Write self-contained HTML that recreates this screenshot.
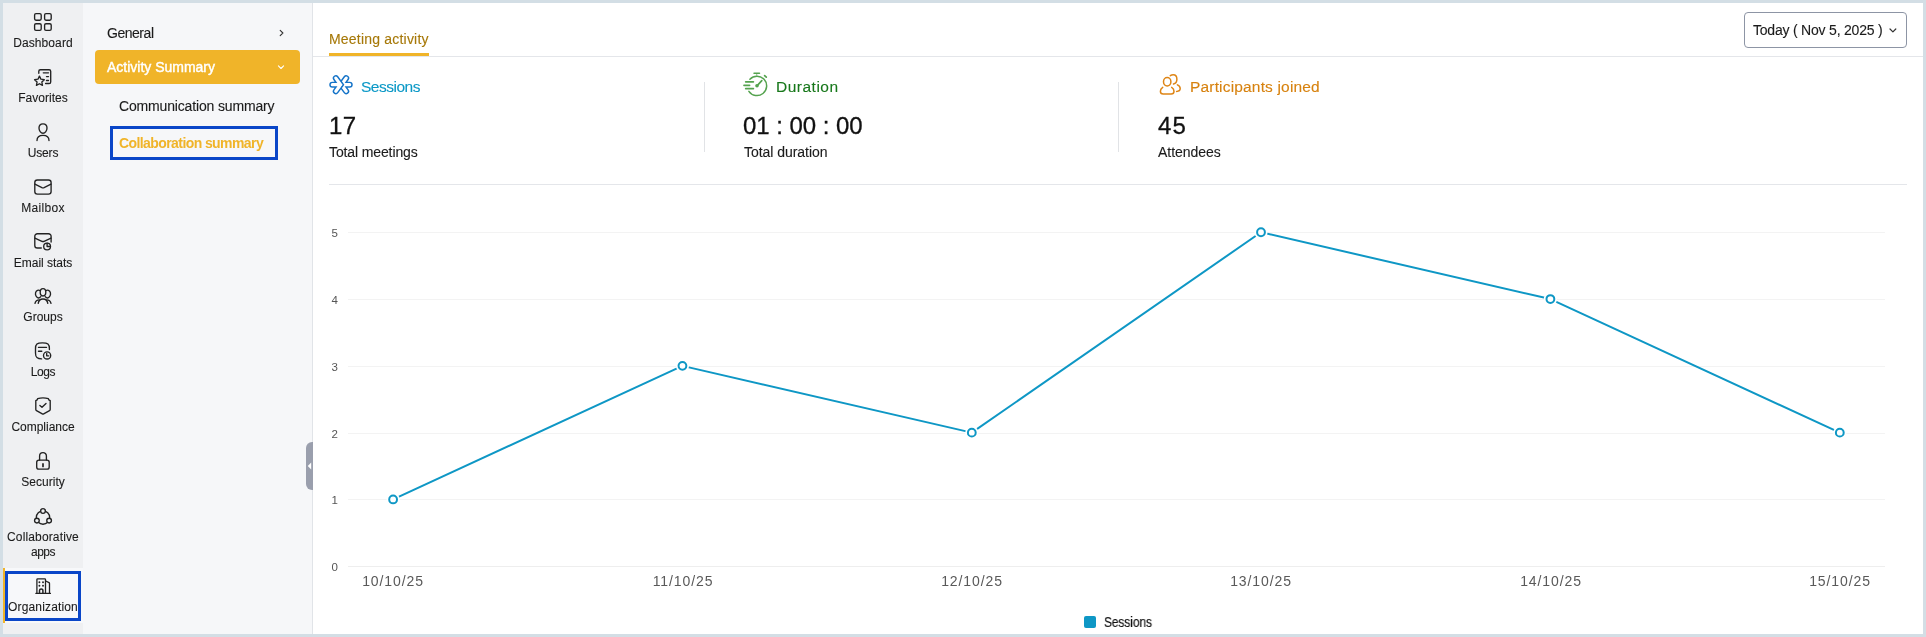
<!DOCTYPE html>
<html>
<head>
<meta charset="utf-8">
<title>Collaboration summary</title>
<style>
*{box-sizing:border-box;margin:0;padding:0}
html,body{width:1926px;height:637px;overflow:hidden;background:#d3dee5}
body{font-family:"Liberation Sans",sans-serif;color:#1b1b1b;position:relative}
.abs{position:absolute}
#side{left:3px;top:3px;width:80px;height:631px;background:#eff0f2}
#nav{left:83px;top:3px;width:229px;height:631px;background:#f6f7f9}
#navb{left:312px;top:3px;width:1px;height:631px;background:#e1e4e8}
#main{left:313px;top:3px;width:1610px;height:631px;background:#fff}
.t{position:absolute;white-space:nowrap;line-height:1;will-change:transform}
.sl{-webkit-text-stroke:.1px #1b1b1b;will-change:transform;position:absolute;left:3px;width:80px;text-align:center;font-size:12.5px;line-height:15px;color:#1b1b1b;white-space:nowrap}
.ic{position:absolute;overflow:visible}
.ic *{vector-effect:none}
</style>
</head>
<body>
<div id="side" class="abs"></div>
<div id="nav" class="abs"></div>
<div id="navb" class="abs"></div>
<div id="main" class="abs"></div>

<!-- SIDEBAR LABELS -->
<div class="sl" id="sl1" style="top:36px;font-size:12px;letter-spacing:0.08px">Dashboard</div>
<div class="sl" id="sl2" style="top:91px;font-size:12px;letter-spacing:0.01px">Favorites</div>
<div class="sl" id="sl3" style="top:146px;font-size:12px;letter-spacing:-0.15px">Users</div>
<div class="sl" id="sl4" style="top:201px;font-size:12px;letter-spacing:0.33px">Mailbox</div>
<div class="sl" id="sl5" style="top:256px;font-size:12px;letter-spacing:-0.03px">Email stats</div>
<div class="sl" id="sl6" style="top:310px;font-size:12px;letter-spacing:0px">Groups</div>
<div class="sl" id="sl7" style="top:365px;font-size:12px;letter-spacing:-0.4px">Logs</div>
<div class="sl" id="sl8" style="top:420px;font-size:12px;letter-spacing:-0.02px">Compliance</div>
<div class="sl" id="sl9" style="top:475px;font-size:12px;letter-spacing:0.03px">Security</div>
<div class="sl" id="sl10" style="top:530px;font-size:12px;letter-spacing:0.14px">Collaborative</div>
<div class="sl" id="sl11" style="top:545px;font-size:12px;letter-spacing:-0.53px">apps</div>
<!-- organization selected -->
<div class="abs" style="left:3px;top:568px;width:80px;height:55px;background:#f7f8fa"></div>
<div class="abs" style="left:3px;top:568px;width:2px;height:55px;background:#f0b429"></div>
<div class="abs" style="left:5px;top:571px;width:76px;height:50px;border:3px solid #0a46c8"></div>
<div class="sl" id="sl12" style="top:600px;font-size:12px;letter-spacing:0.15px">Organization</div>




<!-- NAV -->
<div class="t" id="n1" style="left:107px;top:26px;font-size:14px;letter-spacing:-0.47px;-webkit-text-stroke:.12px #1b1b1b">General</div>
<div class="abs" style="left:95px;top:50px;width:205px;height:34px;background:#f0b429;border-radius:4px"></div>
<div class="t" id="n2" style="-webkit-text-stroke:.4px #fff;left:107px;top:60px;font-size:14px;color:#fff;letter-spacing:-0.01px">Activity Summary</div>
<div class="t" id="n3" style="left:119px;top:99px;font-size:14px;letter-spacing:-0.16px;-webkit-text-stroke:.12px #1b1b1b">Communication summary</div>
<div class="abs" style="left:110px;top:126px;width:168px;height:34px;border:3px solid #0a46c8;background:#f6f7f9"></div>
<div class="t" id="n4" style="left:119px;top:136px;font-size:14px;font-weight:bold;color:#f0b429;letter-spacing:-0.585px">Collaboration summary</div>

<!-- collapse handle -->
<div class="abs" style="left:306px;top:442px;width:7px;height:48px;background:#9a9fad;border-radius:6px 0 0 6px"></div>
<svg class="ic" style="left:306px;top:460px" width="7" height="12" viewBox="0 0 7 12"><path d="M5.2 2.6 L1.8 6 L5.2 9.4 Z" fill="#fff"/></svg>

<!-- HEADER -->
<div class="t" id="h1" style="left:329px;top:32px;font-size:14px;color:#a67808;letter-spacing:0.2px;-webkit-text-stroke:.12px #a67808">Meeting activity</div>
<div class="abs" style="left:329px;top:53px;width:100px;height:3px;background:#f0b429"></div>
<div class="abs" style="left:313px;top:56px;width:1610px;height:1px;background:#e4e6ea"></div>
<div class="abs" style="left:1744px;top:12px;width:163px;height:36px;border:1px solid #8d95a5;border-radius:4px;background:#fff"></div>
<div class="t" id="h2" style="left:1753px;top:23px;font-size:14px;letter-spacing:-0.21px;-webkit-text-stroke:.12px #1b1b1b">Today ( Nov 5, 2025 )</div>

<!-- STATS -->
<div class="t" id="s1" style="left:361px;top:79px;font-size:15.5px;color:#0b98c6;letter-spacing:-0.5px;-webkit-text-stroke:.12px #0b98c6">Sessions</div>
<div class="t" id="s2" style="left:329px;top:114px;font-size:24px;color:#111;letter-spacing:0.5px;-webkit-text-stroke:.3px #111">17</div>
<div class="t" id="s3" style="left:329px;top:145px;font-size:14px;letter-spacing:-0.12px;-webkit-text-stroke:.12px #1b1b1b">Total meetings</div>
<div class="abs" style="left:704px;top:82px;width:1px;height:70px;background:#e1e3e6"></div>
<div class="t" id="s4" style="left:776px;top:79px;font-size:15.5px;color:#17771a;letter-spacing:0.5px;-webkit-text-stroke:.12px #17771a">Duration</div>
<div class="t" id="s5" style="left:743px;top:114px;font-size:24px;color:#111;letter-spacing:-0.04px;-webkit-text-stroke:.3px #111">01 : 00 : 00</div>
<div class="t" id="s6" style="left:744px;top:145px;font-size:14px;letter-spacing:-0.04px;-webkit-text-stroke:.12px #1b1b1b">Total duration</div>
<div class="abs" style="left:1118px;top:82px;width:1px;height:70px;background:#e1e3e6"></div>
<div class="t" id="s7" style="left:1190px;top:79px;font-size:15.5px;color:#d7820f;letter-spacing:0.17px;-webkit-text-stroke:.12px #d7820f">Participants joined</div>
<div class="t" id="s8" style="left:1158px;top:114px;font-size:24px;color:#111;letter-spacing:1.1px;-webkit-text-stroke:.3px #111">45</div>
<div class="t" id="s9" style="left:1158px;top:145px;font-size:14px;letter-spacing:-0.04px;-webkit-text-stroke:.12px #1b1b1b">Attendees</div>
<div class="abs" style="left:329px;top:184px;width:1578px;height:1px;background:#e4e6ea"></div>

<!-- CHART -->
<svg class="abs" style="left:0;top:0" width="1926" height="637" viewBox="0 0 1926 637">
 <g stroke="#f3f3f3" stroke-width="1" shape-rendering="crispEdges">
  <line x1="348" x2="1885" y1="232.5" y2="232.5"/>
  <line x1="348" x2="1885" y1="299.5" y2="299.5"/>
  <line x1="348" x2="1885" y1="366.5" y2="366.5"/>
  <line x1="348" x2="1885" y1="433.5" y2="433.5"/>
  <line x1="348" x2="1885" y1="499.5" y2="499.5"/>
  <line x1="348" x2="1885" y1="566.5" y2="566.5" stroke="#eeeeee"/>
 </g>
 <polyline fill="none" stroke="#0e97c5" stroke-width="2" stroke-linejoin="round" points="393.1,499.45 682.45,365.85 971.8,432.65 1261,232.25 1550.4,299.05 1839.8,432.65"/>
 <g fill="#fff" stroke="#fff" stroke-width="3.2"><circle cx="393.1" cy="499.45" r="5"/><circle cx="682.45" cy="365.85" r="5"/><circle cx="971.8" cy="432.65" r="5"/><circle cx="1261" cy="232.25" r="5"/><circle cx="1550.4" cy="299.05" r="5"/><circle cx="1839.8" cy="432.65" r="5"/></g>
 <g fill="#fff" stroke="#0e97c5" stroke-width="2"><circle cx="393.1" cy="499.45" r="3.9"/><circle cx="682.45" cy="365.85" r="3.9"/><circle cx="971.8" cy="432.65" r="3.9"/><circle cx="1261" cy="232.25" r="3.9"/><circle cx="1550.4" cy="299.05" r="3.9"/><circle cx="1839.8" cy="432.65" r="3.9"/></g>
 <rect x="1084" y="616" width="12" height="12" rx="2" fill="#0e97c5"/>
</svg>
<div class="t yl" id="yl1" style="left:324px;width:14px;text-align:right;top:228px;font-size:11.5px;color:#555">5</div>
<div class="t yl" id="yl2" style="left:324px;width:14px;text-align:right;top:295px;font-size:11.5px;color:#555">4</div>
<div class="t yl" id="yl3" style="left:324px;width:14px;text-align:right;top:362px;font-size:11.5px;color:#555">3</div>
<div class="t yl" id="yl4" style="left:324px;width:14px;text-align:right;top:429px;font-size:11.5px;color:#555">2</div>
<div class="t yl" id="yl5" style="left:324px;width:14px;text-align:right;top:495px;font-size:11.5px;color:#555">1</div>
<div class="t yl" id="yl6" style="left:324px;width:14px;text-align:right;top:562px;font-size:11.5px;color:#555">0</div>

<div class="t xl" id="xl1" style="left:343.2px;width:100px;text-align:center;top:574px;font-size:14px;color:#595959;letter-spacing:.9px">10/10/25</div>
<div class="t xl" id="xl2" style="left:632.6px;width:100px;text-align:center;top:574px;font-size:14px;color:#595959;letter-spacing:.9px">11/10/25</div>
<div class="t xl" id="xl3" style="left:921.9px;width:100px;text-align:center;top:574px;font-size:14px;color:#595959;letter-spacing:.9px">12/10/25</div>
<div class="t xl" id="xl4" style="left:1211.1px;width:100px;text-align:center;top:574px;font-size:14px;color:#595959;letter-spacing:.9px">13/10/25</div>
<div class="t xl" id="xl5" style="left:1500.5px;width:100px;text-align:center;top:574px;font-size:14px;color:#595959;letter-spacing:.9px">14/10/25</div>
<div class="t xl" id="xl6" style="left:1789.9px;width:100px;text-align:center;top:574px;font-size:14px;color:#595959;letter-spacing:.9px">15/10/25</div>
<div class="t" id="lg" style="left:1103.5px;top:615px;font-size:14px;color:#111;-webkit-text-stroke:.2px #111;transform:scaleX(.845);transform-origin:0 0">Sessions</div>
<!-- ICONS -->
<svg class="abs" id="icons" style="left:0;top:0" width="1926" height="637" viewBox="0 0 1926 637" fill="none" stroke-linecap="round" stroke-linejoin="round">
 <g stroke="#222" stroke-width="1.35">
  <!-- dashboard -->
  <rect x="34.6" y="13.6" width="6.6" height="6.6" rx="1.4"/><rect x="44.6" y="13.6" width="6.6" height="6.6" rx="1.4"/>
  <rect x="34.6" y="23.7" width="6.6" height="6.6" rx="1.4"/><rect x="44.6" y="23.7" width="6.6" height="6.6" rx="1.4"/>
  <!-- favorites -->
  <path d="M38.8 73.2 V71.3 A1.6 1.6 0 0 1 40.4 69.7 H49.1 A1.6 1.6 0 0 1 50.7 71.3 V81.9 A1.6 1.6 0 0 1 49.1 83.5 H45.6"/>
  <path d="M43.3 72.8 H48.5 M46.5 76.6 H48.5 M46.5 80.5 H48.5"/>
  <path d="M39.45 76.1 L40.95 79.2 L44.3 79.65 L41.85 82 L42.45 85.35 L39.45 83.75 L36.45 85.35 L37.05 82 L34.6 79.65 L37.95 79.2 Z"/>
  <!-- users -->
  <path d="M43 123.8 C45.6 123.8 47 125.8 47 128 C47 130.6 45.2 133.2 43 133.2 C40.8 133.2 39 130.6 39 128 C39 125.8 40.4 123.8 43 123.8 Z"/>
  <path d="M37 140.6 C37 137.2 39.6 135.3 43 135.3 C46.4 135.3 49 137.2 49 140.6"/>
  <!-- mailbox -->
  <rect x="34.8" y="180" width="16.3" height="14.1" rx="2.6"/>
  <path d="M34.9 184.2 L41.9 187.6 Q43 188.1 44.1 187.6 L51 184.2"/>
  <!-- email stats -->
  <path d="M41.3 248 H37.4 A2.6 2.6 0 0 1 34.8 245.4 V236.3 A2.6 2.6 0 0 1 37.4 233.7 H48.5 A2.6 2.6 0 0 1 51.1 236.3 V242"/>
  <path d="M34.9 238.2 L41.9 241.3 Q43 241.8 44.1 241.3 L51 238.2"/>
  <circle cx="47.1" cy="246.5" r="3.4"/><path d="M47.1 243.2 V246.5 H50.4"/>
  <!-- groups -->
  <ellipse cx="43" cy="292.3" rx="2.8" ry="3.7"/>
  <path d="M40.1 290.6 C38.6 289.6 36.2 290.3 35.6 292.6 C35 295 36.4 297.6 38.3 298 C39.2 298.1 40.1 297.5 40.8 296.6"/>
  <path d="M45.9 290.6 C47.4 289.6 49.8 290.3 50.4 292.6 C51 295 49.6 297.6 47.7 298 C46.8 298.1 45.9 297.5 45.2 296.6"/>
  <path d="M38.2 303.4 C38.6 300.6 40.6 299 43 299 C45.4 299 47.4 300.6 47.8 303.4"/>
  <path d="M35 303.4 C35.5 301.2 36.9 299.9 39.3 299.9 M51 303.4 C50.5 301.2 49.1 299.9 46.7 299.9"/>
  <!-- logs -->
  <path d="M41.6 358.9 C37 358.9 35.5 357.4 35.5 352.9 V348.8 C35.5 344.3 37 342.8 42.4 342.8 C47.9 342.8 49.4 344.3 49.4 348.8 V349.6"/>
  <path d="M38.5 347.4 H46.5 M38.5 351.2 H41.8"/>
  <circle cx="47.1" cy="355.4" r="3.6"/><path d="M46.7 353.4 V355.8 H48.7"/>
  <!-- compliance -->
  <path d="M43 397.8 C41 397.8 39.2 398.1 37.7 398.6 L37.2 399.8 L35.8 400.6 V409.4 Q35.8 410.2 36.5 410.6 L42.3 413.9 Q43 414.3 43.7 413.9 L49.5 410.6 Q50.2 410.2 50.2 409.4 V400.6 L48.8 399.8 L48.3 398.6 C46.8 398.1 45 397.8 43 397.8 Z"/>
  <path d="M39.9 405.4 L42 407.3 L46 403.4"/>
  <!-- security -->
  <rect x="36.7" y="460.1" width="12.5" height="9" rx="2.2"/>
  <path d="M39.6 460 V456 A3.4 3.4 0 0 1 46.4 456 V460"/>
  <path d="M43 463.9 V466.4" stroke-width="1.7"/>
  <!-- collaborative -->
  <circle cx="43" cy="517.5" r="6.7"/>
  <g fill="#eff0f2"><circle cx="43" cy="511" r="2.35"/><circle cx="36.9" cy="520.6" r="2.35"/><circle cx="49.1" cy="520.6" r="2.35"/></g>
 </g>
 <!-- organization -->
 <g stroke="#222" stroke-width="1.3">
  <path d="M35.9 593.4 H50.4"/>
  <path d="M36.9 593.2 V579.6 Q36.9 578.8 37.7 578.8 H44.7 Q45.5 578.8 45.5 579.6 V593.2"/>
  <path d="M45.7 581 L49 582.6 Q49.5 582.9 49.5 583.5 V593.2"/>
  <path d="M39.5 593 V590.6 A1.7 1.7 0 0 1 42.9 590.6 V593" stroke-width="1.5"/>
  <path d="M39.4 582.2 h.01 M43 582.2 h.01 M39.4 585.8 h.01 M43 585.8 h.01" stroke-width="1.9"/>
 </g>
 <!-- nav chevrons -->
 <path d="M280.2 30.3 L282.9 33 L280.2 35.7" stroke="#333" stroke-width="1.1"/>
 <path d="M278.4 65.9 L281 68.5 L283.6 65.9" stroke="#fff" stroke-width="1.1"/>
 <path d="M1890 29 L1892.9 31.9 L1895.8 29" stroke="#333" stroke-width="1.2"/>
 <!-- sessions icon -->
 <g stroke-linejoin="miter" stroke-miterlimit="10">
  <path d="M346.2 78.1 L341.4 84.7 L346.2 91.3 M349.7 84.7 H341.4" stroke="#1473c8" stroke-width="6.1"/>
  <path d="M346.2 78.1 L341.4 84.7 L346.2 91.3 M349.7 84.7 H341.4" stroke="#fff" stroke-width="3.2"/>
  <path d="M335.8 78.1 L340.6 84.7 L335.8 91.3 M332.3 84.7 H340.6" stroke="#1473c8" stroke-width="6.1"/>
  <path d="M335.8 78.1 L340.6 84.7 L335.8 91.3 M332.3 84.7 H340.6" stroke="#fff" stroke-width="3.2"/>
 </g>
 <!-- duration icon -->
 <g stroke="#55a34f" stroke-width="1.5">
  <path d="M749.9 79.2 A9.7 9.7 0 1 1 748.9 91.3"/>
  <path d="M754 73.3 H759.5" stroke-width="1.5"/><path d="M756.7 74.4 V75.2" stroke-width="1.2" opacity=".55"/>
  <path d="M764.6 75.6 L766.3 77.2" stroke-width="1.7"/>
  <path d="M757 85.8 L761.8 80.7" stroke-width="1.7"/>
  <circle cx="757" cy="85.8" r="1.8" fill="#55a34f" stroke="none"/>
  <path d="M745.7 81.8 H753.4 M744 85.3 H749.6 M745.7 88.6 H753.4" stroke-width="1.7"/>
 </g>
 <!-- participants icon -->
 <g stroke="#de8516" stroke-width="1.5">
  <ellipse cx="1167.2" cy="81.8" rx="3.7" ry="4.2"/>
  <path d="M1162.7 87.4 C1161.2 88.3 1160.4 89.7 1160.4 91.3 C1160.4 93.2 1161.3 94.1 1163.2 94.1 H1171.2 C1173.1 94.1 1174 93.2 1174 91.3 C1174 89.7 1173.2 88.3 1171.7 87.4"/>
  <path d="M1170.3 75.7 C1171.2 75.1 1172.2 74.8 1173.2 74.8 C1175.4 74.8 1176.9 76.8 1176.9 79.3 C1176.9 81.6 1175.6 83.6 1173.5 84.1"/>
  <path d="M1177.4 84.9 C1179.2 85.7 1180.2 87.1 1180.2 88.6 C1180.2 90.4 1179 91.4 1176.6 91.4"/>
 </g>
</svg>
</body>
</html>
